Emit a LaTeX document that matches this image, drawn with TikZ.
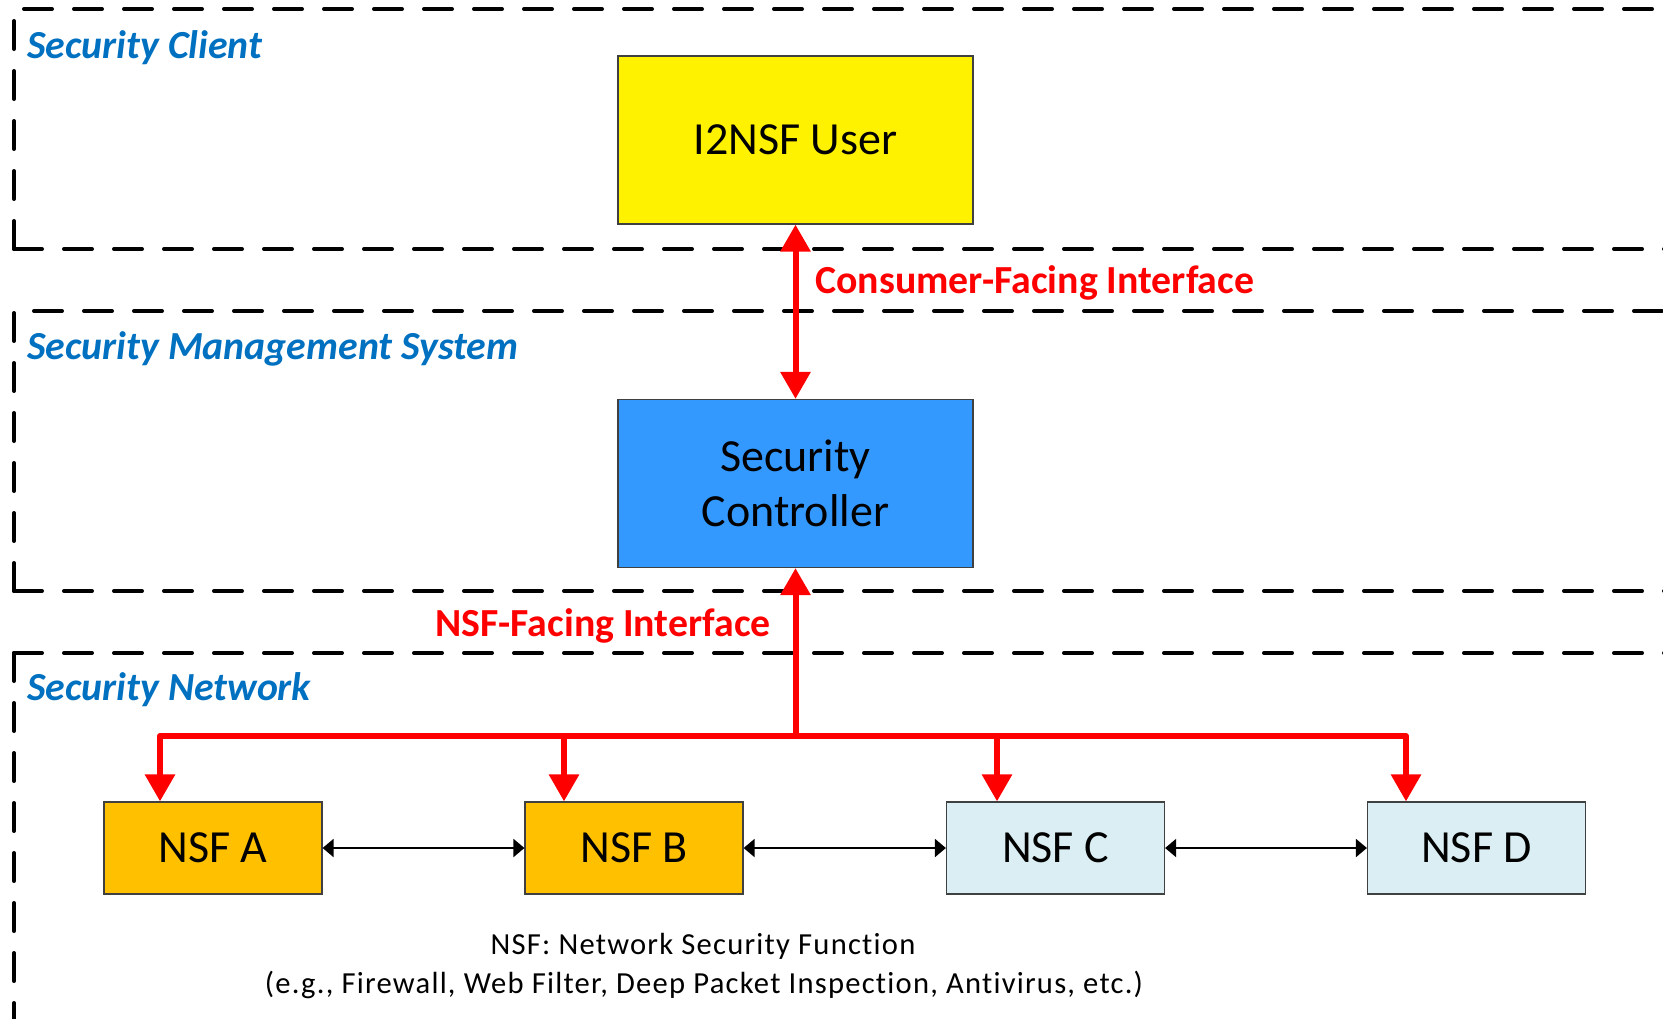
\documentclass[tikz,border=0pt]{standalone}
\usepackage{fontspec}
\setmainfont{Carlito}[Ligatures=NoCommon]
\usetikzlibrary{arrows.meta}
\definecolor{zoneblue}{HTML}{0070C0}
\definecolor{ctrlblue}{HTML}{3399FF}
\definecolor{nsforange}{HTML}{FFC000}
\definecolor{nsflight}{HTML}{DAEEF3}
\definecolor{ifred}{HTML}{FF0000}
\begin{document}
\begin{tikzpicture}[x=0.5pt,y=-0.5pt,
  zone/.style={line width=2pt, dash pattern=on 14pt off 11pt, line cap=round},
  zonelabel/.style={anchor=base west, inner sep=0, text=zoneblue, font=\fontsize{19.9}{23}\selectfont\bfseries\itshape},
  ifacelabel/.style={inner sep=0, text=ifred, font=\fontsize{19.9}{23}\selectfont\bfseries},
  boxnode/.style={draw=black!75, line width=0.6pt, inner sep=0, align=center, font=\fontsize{23}{27.5}\selectfont},
  bigbox/.style={boxnode, minimum width=177.5pt, minimum height=84pt},
  nsfbox/.style={boxnode, minimum width=109pt, minimum height=46pt},
  redline/.style={ifred, line width=3pt, line join=round},
  redboth/.style={redline, {Triangle[length=13.5pt,width=14.5pt]}-{Triangle[length=13.5pt,width=14.5pt]}},
  redstart/.style={redline, {Triangle[length=13.5pt,width=14.5pt]}-},
  redend/.style={redline, -{Triangle[length=13.5pt,width=14.5pt]}},
  peer/.style={line width=1pt, {Triangle[length=5.5pt,width=9pt]}-{Triangle[length=5.5pt,width=9pt]}},
  note/.style={anchor=base, inner sep=0, font={\fontsize{15.3}{18}\selectfont\addfontfeature{LetterSpace=4,Ligatures=NoCommon}}}
]
\useasboundingbox (0,0) rectangle (1663,1018);
\clip (0,0) rectangle (1663,1018);

% zones
\draw[zone] (14,249) -- (14,9) -- (1700,9);
\draw[zone] (14,249) -- (1700,249);
\draw[zone] (14,591) -- (14,311) -- (1700,311);
\draw[zone] (14,591) -- (1700,591);
\draw[zone] (14,653) -- (1700,653);
\draw[zone] (14,653) -- (14,1040);

\node[zonelabel] (lclient) at (27,58) {Security Client};
\node[zonelabel] (lsms) at (27,359) {Security Management System};
\node[zonelabel] (lnet) at (27,700) {Security Network};

% boxes
\node[bigbox, fill=yellow] (user) at (795.5,140) {I2NSF User};
\node[bigbox, fill=ctrlblue] (ctrl) at (795.5,483.5) {Security\\Controller};
\node[nsfbox, fill=nsforange] (nsfA) at (213,848) {NSF A};
\node[nsfbox, fill=nsforange] (nsfB) at (634,848) {NSF B};
\node[nsfbox, fill=nsflight] (nsfC) at (1055.5,848) {NSF C};
\node[nsfbox, fill=nsflight] (nsfD) at (1476.5,848) {NSF D};

% interfaces
\draw[redboth] (user.south) -- (ctrl.north);
\node[ifacelabel, anchor=base west] (cfi) at (815,293) {Consumer-Facing Interface};

\coordinate (hub) at (795.5,736);
\coordinate (dropA) at (160,736);
\coordinate (dropB) at (564,736);
\coordinate (dropC) at (997,736);
\coordinate (dropD) at (1406,736);
\draw[redstart] (ctrl.south) -- (hub);
\draw[redboth] (dropA |- nsfA.north) -- (dropA) -- (dropD) -- (dropD |- nsfD.north);
\draw[redend] (dropB) -- (dropB |- nsfB.north);
\draw[redend] (dropC) -- (dropC |- nsfC.north);
\node[ifacelabel, anchor=base east] (nfi) at (771,636) {NSF-Facing Interface};

% peer links
\draw[peer] (nsfA.east) -- (nsfB.west);
\draw[peer] (nsfB.east) -- (nsfC.west);
\draw[peer] (nsfC.east) -- (nsfD.west);

% note
\node[note] (note1) at (703,954) {NSF: Network Security Function};
\node[note] (note2) at (704,993) {(e.g., Firewall, Web Filter, Deep Packet Inspection, Antivirus, etc.)};
\end{tikzpicture}
\end{document}
